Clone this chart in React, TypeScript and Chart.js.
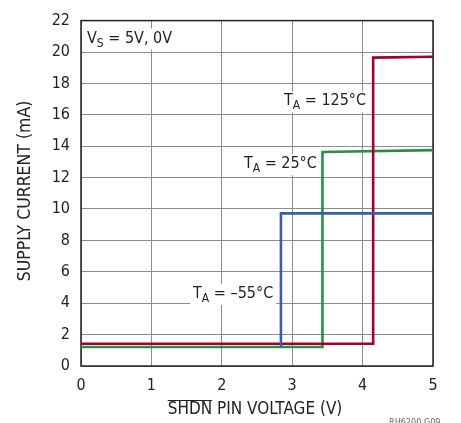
import React, { useEffect, useRef } from "react";
import { Chart, registerables } from "chart.js";

Chart.register(...registerables);

const FONT = '"Liberation Sans Narrow", "Arial Narrow", "DejaVu Sans Condensed", "Liberation Sans", sans-serif';

// Series (x = SHDN pin voltage in V, y = supply current in mA)
const redX = [0, 4.15, 4.15, 5];
const redY = [1.42, 1.42, 19.64, 19.7];
const greenX = [0, 3.43, 3.43, 5];
const greenY = [1.21, 1.21, 13.63, 13.75];
const blueX = [2.84, 2.84, 5];
const blueY = [1.3, 9.72, 9.72];

// Axis ranges
const xMin = 0, xMax = 5, xStep = 1;
const yMin = 0, yMax = 22, yStep = 2;
const xTitleMain = "SHDN";
const xTitleRest = " PIN VOLTAGE (V)";
const yTitle = "SUPPLY CURRENT (mA)";
const footer = "RH6200 G09";

// Annotations
const labelMain = ["T", "T", "T", "V"];
const labelSub = ["A", "A", "A", "S"];
const labelRest = [" = 125°C", " = 25°C", " = –55°C", " = 5V, 0V"];
const labelX = [4.05, 3.35, 2.73, 0.085];
const labelY = [16.6, 12.6, 4.33, 20.6];
const labelAlign = ["right", "right", "right", "left"];

const toPts = (xs: number[], ys: number[]) => xs.map((x, i) => ({ x, y: ys[i] }));

const decorPlugin = {
  id: "decor",
  beforeDatasetsDraw(chart: any) {
    const { ctx, chartArea: a } = chart;
    ctx.save();
    ctx.strokeStyle = "#222";
    ctx.lineWidth = 1.5;
    ctx.strokeRect(a.left, a.top, a.right - a.left, a.bottom - a.top);
    ctx.restore();
  },
  afterDatasetsDraw(chart: any) {
    const { ctx, scales } = chart;
    ctx.save();
    for (let i = 0; i < labelMain.length; i++) {
      const big = "16px " + FONT;
      const small = "12px " + FONT;
      ctx.font = big;
      const w1 = ctx.measureText(labelMain[i]).width;
      const w3 = ctx.measureText(labelRest[i]).width;
      ctx.font = small;
      const w2 = ctx.measureText(labelSub[i]).width;
      const w = w1 + w2 + w3;
      const px = scales.x.getPixelForValue(labelX[i]);
      const py = scales.y.getPixelForValue(labelY[i]);
      const x0 = labelAlign[i] === "right" ? px - w : px;
      ctx.fillStyle = "#fff";
      ctx.fillRect(x0 - 3, py - 14, w + 6, 21);
      ctx.fillStyle = "#222";
      ctx.textBaseline = "alphabetic";
      ctx.textAlign = "left";
      ctx.font = big;
      ctx.fillText(labelMain[i], x0, py);
      ctx.font = small;
      ctx.fillText(labelSub[i], x0 + w1, py + 4);
      ctx.font = big;
      ctx.fillText(labelRest[i], x0 + w1 + w2, py);
    }
    ctx.restore();
  },
  afterDraw(chart: any) {
    const { ctx, chartArea: a } = chart;
    ctx.save();
    ctx.fillStyle = "#222";
    ctx.strokeStyle = "#222";
    // x title
    ctx.font = "17px " + FONT;
    const wm = ctx.measureText(xTitleMain).width;
    const wr = ctx.measureText(xTitleRest).width;
    const cx = (a.left + a.right) / 2 - 2;
    const sx = cx - (wm + wr) / 2;
    ctx.textBaseline = "alphabetic";
    ctx.textAlign = "left";
    ctx.fillText(xTitleMain + xTitleRest, sx, 414);
    ctx.lineWidth = 1;
    ctx.beginPath();
    ctx.moveTo(sx, 400.5);
    ctx.lineTo(sx + wm, 400.5);
    ctx.stroke();
    // y title
    ctx.save();
    ctx.font = "17.5px " + FONT;
    ctx.translate(25, 191);
    ctx.rotate(-Math.PI / 2);
    ctx.textAlign = "center";
    ctx.textBaseline = "middle";
    ctx.fillText(yTitle, 0, 0);
    ctx.restore();
    // footer
    ctx.font = "9px " + FONT;
    ctx.fillStyle = "#666";
    ctx.textAlign = "left";
    ctx.textBaseline = "top";
    ctx.fillText(footer, 389, 418);
    ctx.restore();
  },
};

export default function App() {
  const ref = useRef<HTMLCanvasElement>(null);
  useEffect(() => {
    document.body.style.margin = "0";
    const chart = new Chart(ref.current!, {
      type: "scatter",
      data: {
        datasets: [
          { label: "-55", data: toPts(blueX, blueY), borderColor: "#3a5ca8", order: 0 },
          { label: "125", data: toPts(redX, redY), borderColor: "#a0002a", order: 1 },
          { label: "25", data: toPts(greenX, greenY), borderColor: "#2e8a4c", order: 2 },
        ].map((d) => ({
          ...d,
          showLine: true,
          borderWidth: 2.6,
          pointRadius: 0,
          tension: 0,
          fill: false,
          borderCapStyle: "square",
          borderJoinStyle: "miter",
        })) as any,
      },
      options: {
        responsive: false,
        animation: false,
        layout: { padding: { left: 0, top: 15, right: 28, bottom: 0 } },
        plugins: { legend: { display: false }, tooltip: { enabled: false } },
        scales: {
          x: {
            type: "linear",
            min: xMin,
            max: xMax,
            afterFit: (s: any) => { s.height = 57; },
            ticks: { stepSize: xStep, color: "#222", font: { family: FONT, size: 16 }, padding: 10 },
            grid: { color: "#8c8c8c", lineWidth: 1, drawTicks: false },
            border: { display: false },
          },
          y: {
            type: "linear",
            min: yMin,
            max: yMax,
            afterFit: (s: any) => { s.width = 81; },
            ticks: { stepSize: yStep, color: "#222", font: { family: FONT, size: 16 }, padding: 11 },
            grid: { color: "#8c8c8c", lineWidth: 1, drawTicks: false },
            border: { display: false },
          },
        },
      },
      plugins: [decorPlugin],
    });
    return () => chart.destroy();
  }, []);
  return (
    <div style={{ position: "absolute", left: 0, top: 0, width: 461, height: 423, background: "#fff" }}>
      <canvas ref={ref} width={461} height={423} />
    </div>
  );
}
